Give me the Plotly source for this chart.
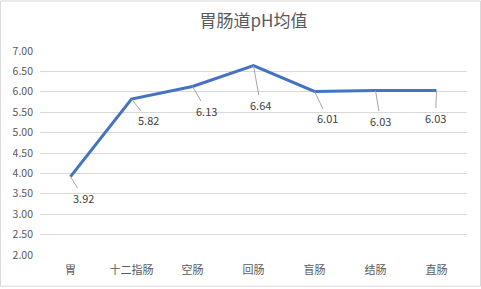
import plotly.graph_objects as go

categories = ["胃", "十二指肠", "空肠", "回肠", "盲肠", "结肠", "直肠"]
ph_values = [3.92, 5.82, 6.13, 6.64, 6.01, 6.03, 6.03]
y_ticks = [2.0, 2.5, 3.0, 3.5, 4.0, 4.5, 5.0, 5.5, 6.0, 6.5, 7.0]
title_text = "胃肠道pH均值"

# label offsets (pixels) for the data labels with leader lines
label_dx = [13, 17, 14, 7, 13, 5, -1]
label_dy = [21, 21, 24, 39, 27, 30, 27]

FONT = "Noto Sans CJK SC, Microsoft YaHei, sans-serif"

fig = go.Figure()
fig.add_trace(go.Scatter(
    x=categories, y=ph_values, mode="lines",
    line=dict(color="#4472C4", width=3),
    hoverinfo="skip", showlegend=False,
))

for c, v, dx, dy in zip(categories, ph_values, label_dx, label_dy):
    fig.add_annotation(
        x=c, y=v, text=f"{v:.2f}", showarrow=True, ax=dx, ay=dy,
        arrowhead=0, arrowwidth=1, arrowcolor="#a6a6a6", standoff=0,
        font=dict(family=FONT, size=11, color="#404040"),
    )

L, R, T, B = 40, 14, 51, 32
W, H = 481, 289
pw, ph = W - L - R, H - T - B
fig.add_shape(
    type="rect", xref="paper", yref="paper",
    x0=(0.5 - L) / pw, x1=(W - 0.5 - L) / pw,
    y0=-(B - 0.5) / ph, y1=(H - B - 0.5) / ph,
    line=dict(color="#d9d9d9", width=1), layer="below",
)

fig.update_layout(
    width=W, height=H,
    margin=dict(l=L, r=R, t=T, b=B),
    paper_bgcolor="white", plot_bgcolor="white",
    title=dict(text=title_text, x=0.5, xref="paper", y=1 - 21 / H, yanchor="middle",
               font=dict(family=FONT, size=17, color="#595959")),
    xaxis=dict(type="category", range=[-0.5, 6.5], showgrid=False, zeroline=False,
               showline=False, ticks="", ticklabelstandoff=7,
               tickfont=dict(family=FONT, size=11, color="#595959")),
    yaxis=dict(range=[2, 7], tickvals=y_ticks, tickformat=".2f",
               gridcolor="#d9d9d9", gridwidth=1, zeroline=False, showline=False,
               ticks="", ticklabelstandoff=6,
               tickfont=dict(family=FONT, size=10.5, color="#595959")),
)

fig.write_html("out.html")
